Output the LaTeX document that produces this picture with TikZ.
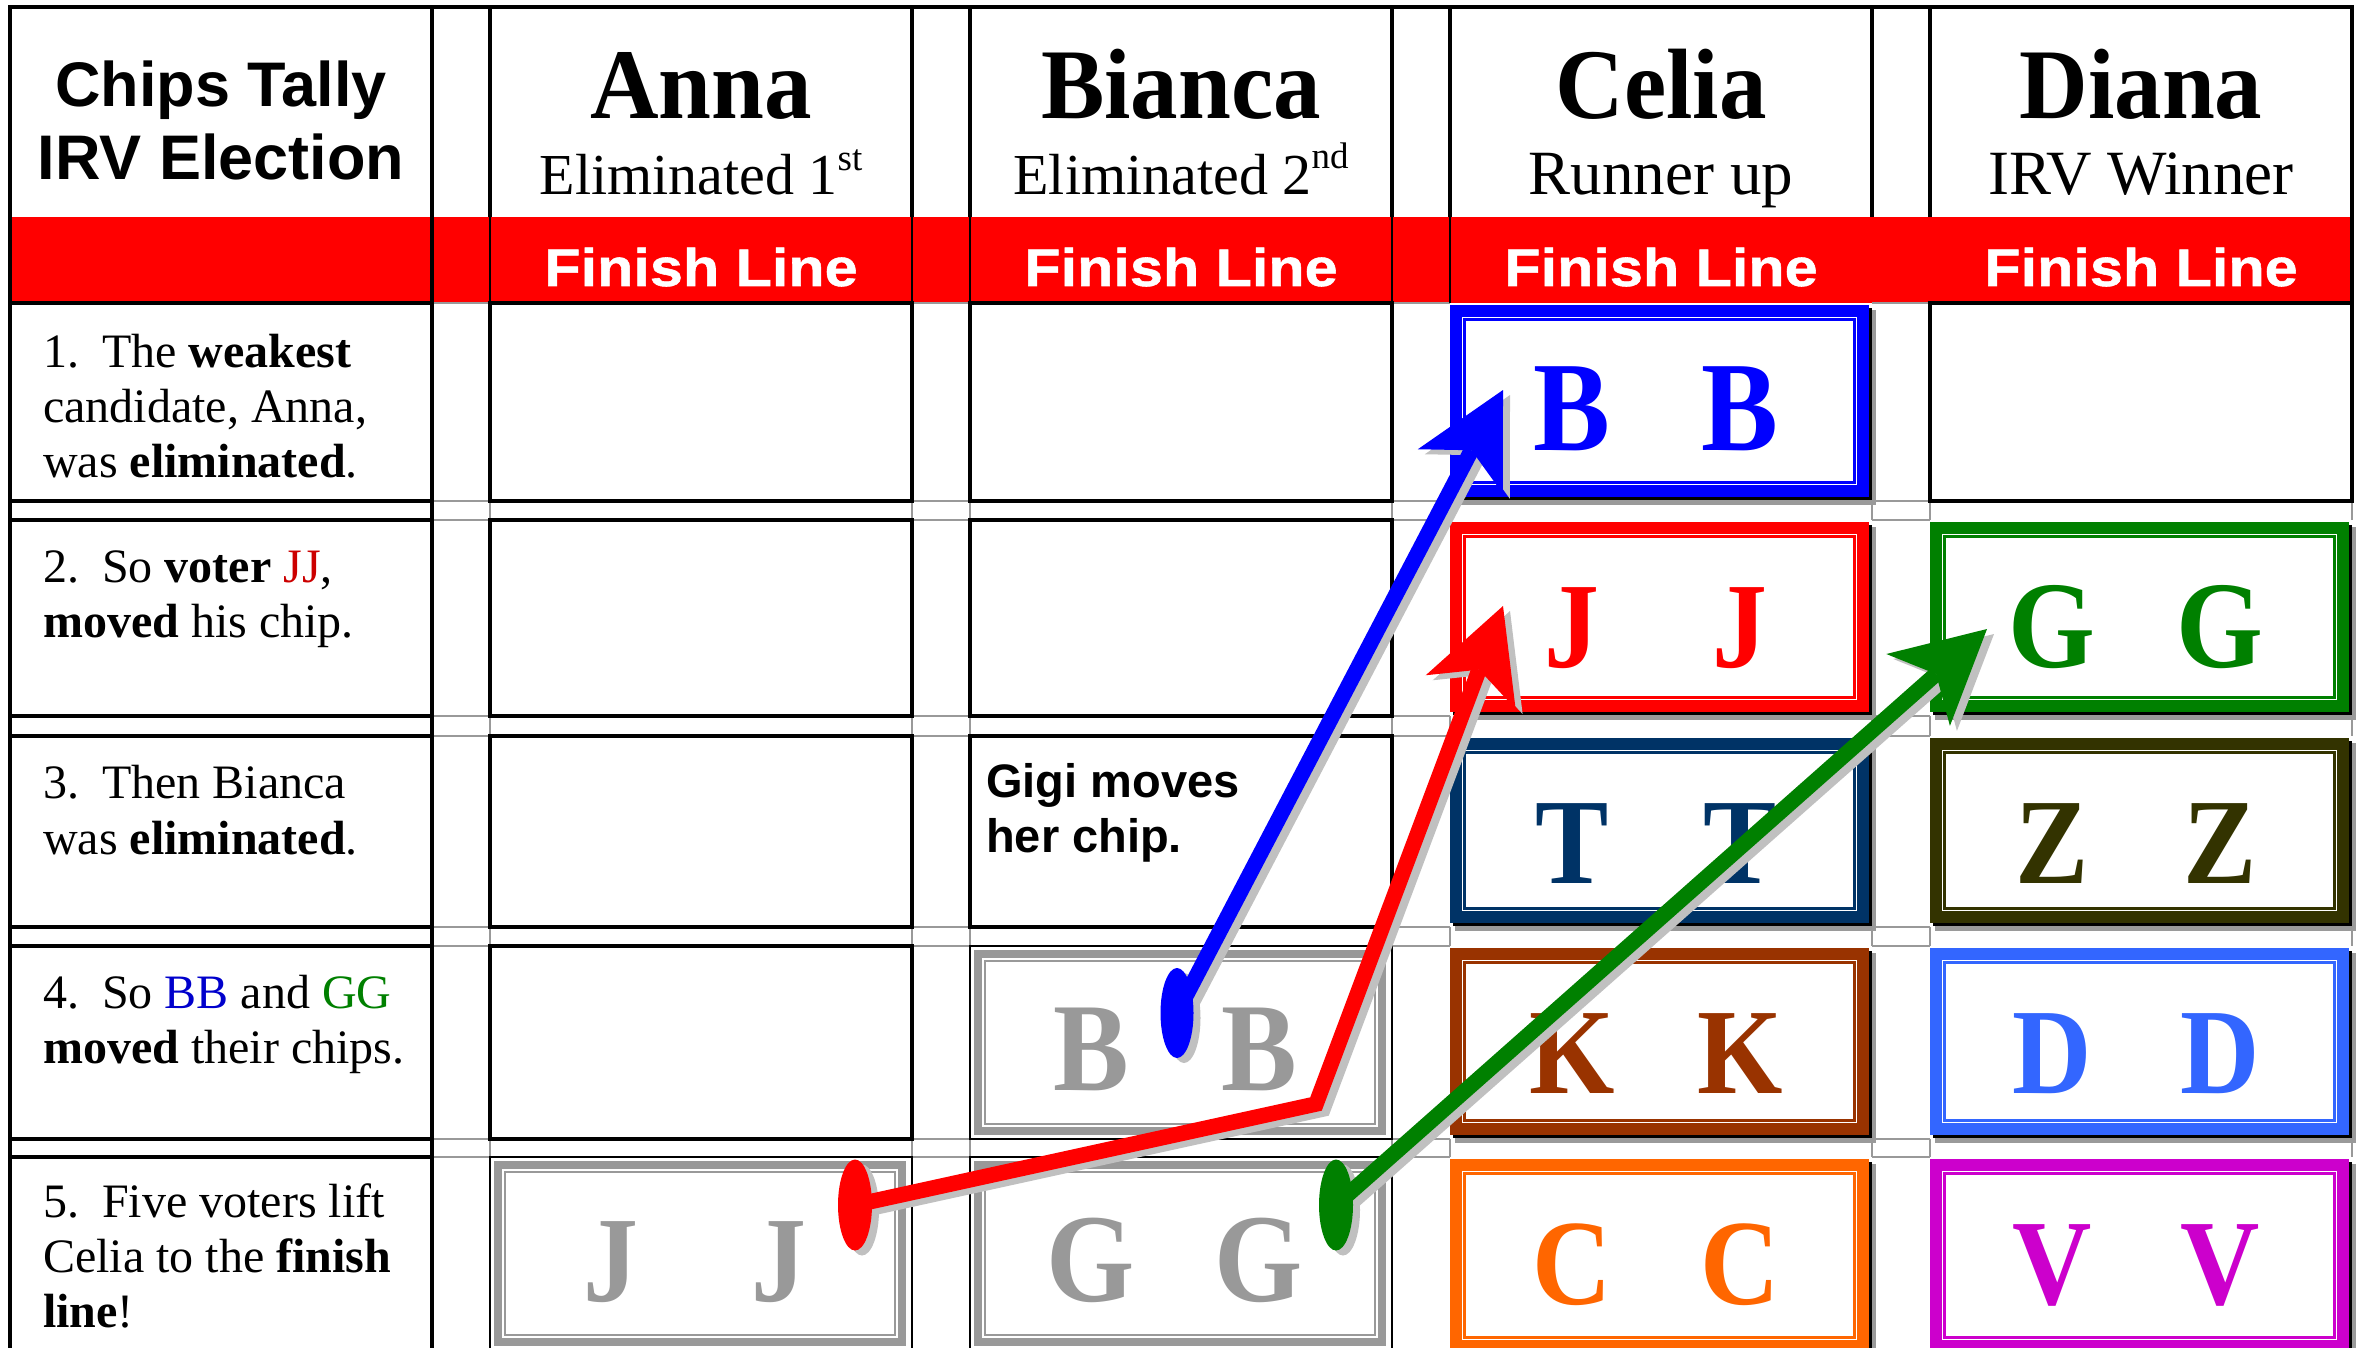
\documentclass[tikz,border=0pt]{standalone}
\usepackage{fontspec}
\setmainfont{Liberation Serif}
\setsansfont{Liberation Sans}
\newfontfamily\hdrfont[FakeStretch=0.95]{Liberation Serif}
\newfontfamily\chipfam[FakeStretch=0.9]{Liberation Serif}
\newfontfamily\finfont[FakeStretch=1.12,FakeBold=1]{Liberation Sans}
\usetikzlibrary{arrows.meta}
\definecolor{bandred}{HTML}{FF0000}
\definecolor{gridgrey}{HTML}{999999}
\definecolor{chipgrey}{HTML}{999999}
\definecolor{chipshd}{HTML}{9A9A9A}
\definecolor{ashd}{HTML}{C0C0C0}
\definecolor{cBB}{HTML}{0000FF}
\definecolor{cJJ}{HTML}{FF0000}
\definecolor{cTT}{HTML}{003366}
\definecolor{cKK}{HTML}{993300}
\definecolor{cCC}{HTML}{FF6600}
\definecolor{cGG}{HTML}{008000}
\definecolor{cZZ}{HTML}{333300}
\definecolor{cDD}{HTML}{3366FF}
\definecolor{cVV}{HTML}{CC00CC}
\definecolor{txtred}{HTML}{CC0000}
\definecolor{txtblue}{HTML}{0000CC}
\definecolor{txtgreen}{HTML}{008000}

% #1 L, #2 T, #3 R, #4 B, #5 colour, #6 letter, #7 name, #8 size
\newcommand\colchip[8]{%
  \pgfmathsetmacro\chipcx{(#1+#3)/2-5}%
  \fill[chipshd] (#1+5,#2+7) rectangle (#3+4,#4+4);
  \fill[black] (#1+3,#2+5) rectangle (#3-0.5,#4-1);
  \fill[#5] (#1,#2+2) rectangle (#3-3,#4-4);
  \fill[white] (#1+11.7,#2+13.7) rectangle (#3-14.7,#4-15.7);
  \draw[#5,line width=2.3pt] (#1+14.55,#2+16.55) rectangle (#3-17.55,#4-18.55);
  \node[chipltr,text=#5,font=\chipfam\bfseries\fontsize{#8}{#8}\selectfont] (#7a) at (\chipcx-84,#2+147) {#6};
  \node[chipltr,text=#5,font=\chipfam\bfseries\fontsize{#8}{#8}\selectfont] (#7b) at (\chipcx+84,#2+147) {#6};
}
% #1 L, #2 T, #3 R, #4 B, #5 letter, #6 name, #7 size
\newcommand\greychip[7]{%
  \pgfmathsetmacro\chipcx{(#1+#3)/2-6}%
  \draw[black,line width=1.8pt] (#1,#2) rectangle (#3,#4);
  \fill[chipgrey] (#1+4,#2+4) rectangle (#3-6,#4-4);
  \fill[white] (#1+12.3,#2+12.3) rectangle (#3-14.3,#4-12.3);
  \draw[chipgrey,line width=2.3pt] (#1+15.15,#2+15.15) rectangle (#3-17.15,#4-15.15);
  \node[chipltr,text=chipgrey,font=\chipfam\bfseries\fontsize{#7}{#7}\selectfont] (#6a) at (\chipcx-84,#2+144) {#5};
  \node[chipltr,text=chipgrey,font=\chipfam\bfseries\fontsize{#7}{#7}\selectfont] (#6b) at (\chipcx+84,#2+144) {#5};
}

\begin{document}
\begin{tikzpicture}[x=1pt,y=-1pt,
  tbl/.style={line width=3.2pt,black},
  gline/.style={line width=2.6pt,gridgrey},
  chipltr/.style={anchor=base,inner sep=0pt},
  lbl/.style={anchor=base west,inner sep=0pt,font=\fontsize{48}{55}\selectfont},
  ttl/.style={anchor=base,inner sep=0pt,font=\sffamily\bfseries\fontsize{63}{63}\selectfont},
  hname/.style={anchor=base,inner sep=0pt,font=\hdrfont\bfseries\fontsize{100}{100}\selectfont},
  hsubA/.style={anchor=base,inner sep=0pt,font=\fontsize{58}{58}\selectfont},
  hsubB/.style={anchor=base,inner sep=0pt,font=\fontsize{63}{63}\selectfont},
  finish/.style={anchor=base,inner sep=0pt,text=white,font=\finfont\bfseries\fontsize{53}{53}\selectfont},
  gigi/.style={anchor=base west,inner sep=0pt,font=\sffamily\bfseries\fontsize{47}{47}\selectfont},
  arr/.style={line width=15.5pt,-{Stealth[length=92pt,width=96pt,inset=24pt,line width=0pt]}}
]
\useasboundingbox[fill=white] (0,0) rectangle (2361,1348);

% red finish band
\fill[bandred] (10,217) rectangle (2352,303);

% grey lines in the gap columns and gap rows
\foreach \gla/\glb in {432/490,912/970,1392/1450,1872/1930}{
  \foreach \yy in {303,501,520,716,736,927,946,1139,1157}{
    \draw[gline] (\gla,\yy) -- (\glb,\yy);}}
\foreach \xx in {490,912,970,1392,1450,1872,1930,2352}{
  \foreach \ga/\gb in {501/520,716/736,927/946,1139/1157}{
    \draw[gline] (\xx,\ga) -- (\xx,\gb);}}

% header frame
\foreach \xx in {10,432,490,912,970,1392,1450,1872,1930,2352}{
  \draw[tbl] (\xx,7) -- (\xx,217);}
\draw[tbl] (8.4,7) -- (2353.6,7);
\foreach \xx in {432,490,912,970,1392,1450}{
  \draw[black,line width=1.5pt] (\xx,217) -- (\xx,303);}
\draw[tbl] (2352,217) -- (2352,303);

% label column
\draw[tbl] (10,7) -- (10,1360);
\draw[tbl] (432,7) -- (432,1360);
\foreach \yy in {303,501,520,716,736,927,946,1139,1157}{
  \draw[tbl] (8.4,\yy) -- (433.6,\yy);}

% plain cells
\foreach \cl/\cr/\rt/\rb in {490/912/303/501,490/912/520/716,490/912/736/927,490/912/946/1139,
  970/1392/303/501,970/1392/520/716,970/1392/736/927,1930/2352/303/501}{
  \draw[tbl] (\cl,\rt) rectangle (\cr,\rb);}

% grey (moved) chips
\greychip{490}{1157}{912}{1350}{J}{annaJ}{122}
\greychip{970}{946}{1392}{1139}{B}{biancaB}{126}
\greychip{970}{1157}{1392}{1350}{G}{biancaG}{126}

% coloured chips
\colchip{1450}{303}{1872}{501}{cBB}{B}{celiaB}{128}
\colchip{1450}{520}{1872}{716}{cJJ}{J}{celiaJ}{122}
\colchip{1450}{736}{1872}{927}{cTT}{T}{celiaT}{122}
\colchip{1450}{946}{1872}{1139}{cKK}{K}{celiaK}{122}
\colchip{1450}{1157}{1872}{1356}{cCC}{C}{celiaC}{122}
\colchip{1930}{520}{2352}{716}{cGG}{G}{dianaG}{124}
\colchip{1930}{736}{2352}{927}{cZZ}{Z}{dianaZ}{122}
\colchip{1930}{946}{2352}{1139}{cDD}{D}{dianaD}{122}
\colchip{1930}{1157}{2352}{1356}{cVV}{V}{dianaV}{122}

% header texts
\node[ttl] (title1) at (221,107) {Chips Tally};
\node[ttl] (title2) at (221,180) {IRV Election};
\node[hname] (nAnna) at (701,119) {Anna};
\node[hname] (nBianca) at (1181,119) {Bianca};
\node[hname] (nCelia) at (1661,119) {Celia};
\node[hname] (nDiana) at (2141,119) {Diana};
\node[hsubA] (sAnna) at (701,195) {Eliminated 1\raisebox{24pt}{\fontsize{37}{37}\selectfont st}};
\node[hsubA] (sBianca) at (1181,195) {Eliminated 2\raisebox{26pt}{\fontsize{37}{37}\selectfont nd}};
\node[hsubB] (sCelia) at (1661,195) {Runner up};
\node[hsubB] (sDiana) at (2141,195) {IRV Winner};
\node[finish] (fAnna) at (701,286) {Finish Line};
\node[finish] (fBianca) at (1181,286) {Finish Line};
\node[finish] (fCelia) at (1661,286) {Finish Line};
\node[finish] (fDiana) at (2141,286) {Finish Line};

% row labels
\node[lbl] (r1a) at (43,367) {1.\hspace{23pt}The \textbf{weakest}};
\node[lbl] (r1b) at (43,422) {candidate, Anna,};
\node[lbl] (r1c) at (43,477) {was \textbf{eliminated}.};
\node[lbl] (r2a) at (43,582) {2.\hspace{23pt}So \textbf{voter} \textcolor{txtred}{JJ},};
\node[lbl] (r2b) at (43,637) {\textbf{moved} his chip.};
\node[lbl] (r3a) at (43,798) {3.\hspace{23pt}Then Bianca};
\node[lbl] (r3b) at (43,854) {was \textbf{eliminated}.};
\node[lbl] (r4a) at (43,1008) {4.\hspace{23pt}So \textcolor{txtblue}{BB} and \textcolor{txtgreen}{GG}};
\node[lbl] (r4b) at (43,1063) {\textbf{moved} their chips.};
\node[lbl] (r5a) at (43,1217) {5.\hspace{23pt}Five voters lift};
\node[lbl] (r5b) at (43,1272) {Celia to the \textbf{finish}};
\node[lbl] (r5c) at (43,1327) {\textbf{line}!};

% Gigi note
\node[gigi] (gigi1) at (986,797) {Gigi moves};
\node[gigi] (gigi2) at (986,852) {her chip.};

% arrows
\coordinate (bs) at (1177,1013);
\coordinate (bt) at (1503,390);
\coordinate (rs) at (855,1205);
\coordinate (rb) at (1316,1104);
\coordinate (rt) at (1503,606);
\coordinate (gs) at (1336,1205);
\coordinate (gt) at (1987,629);

\begin{scope}[transform canvas={shift={(7pt,-5pt)}}]
  \fill[ashd] (bs) ellipse [x radius=16.5pt,y radius=45pt];
  \fill[ashd] (rs) ellipse [x radius=17pt,y radius=45.5pt];
  \fill[ashd] (gs) ellipse [x radius=17pt,y radius=45.5pt];
  \draw[arr,ashd] (bs) -- (bt);
  \draw[arr,ashd] (rs) -- (rb) -- (rt);
  \draw[arr,ashd] (gs) -- (gt);
\end{scope}
\fill[cBB] (bs) ellipse [x radius=16.5pt,y radius=45pt];
\fill[cJJ] (rs) ellipse [x radius=17pt,y radius=45.5pt];
\fill[cGG] (gs) ellipse [x radius=17pt,y radius=45.5pt];
\draw[arr,cBB] (bs) -- (bt);
\draw[arr,cJJ] (rs) -- (rb) -- (rt);
\draw[arr,cGG] (gs) -- (gt);
\end{tikzpicture}
\end{document}
